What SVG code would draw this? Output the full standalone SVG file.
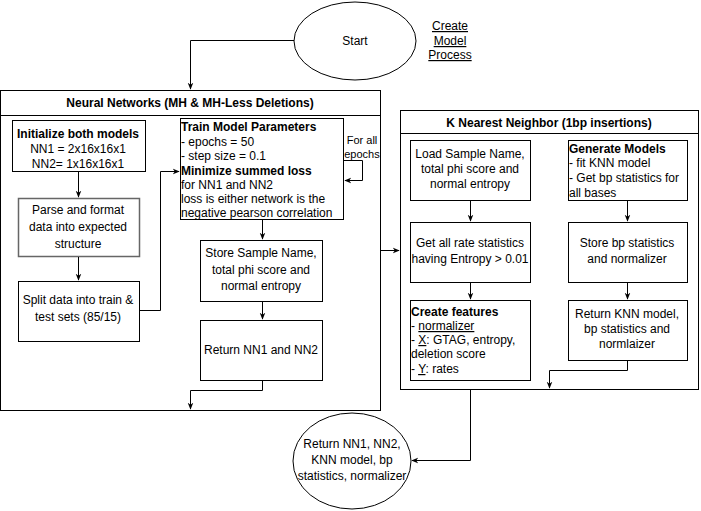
<svg xmlns="http://www.w3.org/2000/svg" width="701" height="511" viewBox="0 0 701 511">
<defs>
<marker id="ah" viewBox="0 0 10 10" refX="9" refY="5" markerWidth="7" markerHeight="7" orient="auto" markerUnits="userSpaceOnUse">
<path d="M0,1 L10,5 L0,9 L3,5 Z" fill="#000"/>
</marker>
<style>
text{font-family:"Liberation Sans",Arial,sans-serif;font-size:12px;fill:#000}
.c{text-anchor:middle}
.b{font-weight:bold}
.u{text-decoration:underline}
.box{fill:#fff;stroke:#000;stroke-width:1}
.gbox{fill:#fff;stroke:#666;stroke-width:1.5}
.edge{fill:none;stroke:#000;stroke-width:1}
.small{font-size:11px}
</style>
</defs>
<rect width="701" height="511" fill="#fff"/>

<g id="start">
<ellipse cx="355" cy="41" rx="61" ry="39" class="box"/>
<text x="355" y="45" class="c">Start</text>
</g>
<g id="title-link">
<text x="450" y="30" class="c u">Create</text>
<text x="450" y="45" class="c u">Model</text>
<text x="450" y="59" class="c u">Process</text>
</g>

<g id="nn-container">
<rect x="0.5" y="90.5" width="380" height="320" class="box"/>
<line x1="0.5" y1="115.5" x2="380.5" y2="115.5" stroke="#000"/>
<text x="190" y="107" class="c b">Neural Networks (MH &amp; MH-Less Deletions)</text>
</g>
<g id="init">
<rect x="12.5" y="120.5" width="133" height="51" class="box"/>
<text x="78" y="138" class="c b">Initialize both models</text>
<text x="78" y="153" class="c">NN1 = 2x16x16x1</text>
<text x="78" y="168" class="c">NN2= 1x16x16x1</text>
</g>
<g id="parse">
<rect x="18.5" y="198.5" width="121" height="58" class="gbox"/>
<text x="78" y="214" class="c" fill="#333">Parse and format</text>
<text x="78" y="231" class="c" fill="#333">data into expected</text>
<text x="78" y="248" class="c" fill="#333">structure</text>
</g>
<g id="split">
<rect x="18.5" y="281.5" width="121" height="60" class="box"/>
<text x="78" y="304" class="c">Split data into train &amp;</text>
<text x="78" y="321" class="c">test sets (85/15)</text>
</g>
<g id="train">
<rect x="180.5" y="118.5" width="163" height="101" class="box"/>
<text x="181" y="131" class="b">Train Model Parameters</text>
<text x="181" y="146">- epochs = 50</text>
<text x="181" y="160">- step size = 0.1</text>
<text x="181" y="175" class="b">Minimize summed loss</text>
<text x="181" y="189">for NN1 and NN2</text>
<text x="181" y="203">loss is either network is the</text>
<text x="181" y="217">negative pearson correlation</text>
</g>
<g id="loop-label">
<text x="362" y="144" class="c small">For all</text>
<text x="362" y="158" class="c small">epochs</text>
</g>
<g id="store">
<rect x="200.5" y="240.5" width="122" height="61" class="box"/>
<text x="261" y="257" class="c">Store Sample Name,</text>
<text x="261" y="274" class="c">total phi score and</text>
<text x="261" y="290" class="c">normal entropy</text>
</g>
<g id="return-nn">
<rect x="200.5" y="320.5" width="122" height="60" class="box"/>
<text x="261" y="354" class="c">Return NN1 and NN2</text>
</g>

<g id="knn-container">
<rect x="400.5" y="110.5" width="298" height="279" class="box"/>
<line x1="400.5" y1="133.5" x2="698.5" y2="133.5" stroke="#000"/>
<text x="549" y="127" class="c b">K Nearest Neighbor (1bp insertions)</text>
</g>
<g id="load">
<rect x="410.5" y="140.5" width="120" height="60" class="box"/>
<text x="470" y="158" class="c">Load Sample Name,</text>
<text x="470" y="173" class="c">total phi score and</text>
<text x="470" y="188" class="c">normal entropy</text>
</g>
<g id="generate">
<rect x="568.5" y="140.5" width="119" height="60" class="box"/>
<text x="569" y="153" class="b">Generate Models</text>
<text x="569" y="167">- fit KNN model</text>
<text x="569" y="182">- Get bp statistics for</text>
<text x="569" y="197">all bases</text>
</g>
<g id="get-rates">
<rect x="410.5" y="222.5" width="120" height="60" class="box"/>
<text x="470" y="247" class="c">Get all rate statistics</text>
<text x="470" y="263" class="c">having Entropy &gt; 0.01</text>
</g>
<g id="store-bp">
<rect x="568.5" y="222.5" width="119" height="60" class="box"/>
<text x="627" y="247" class="c">Store bp statistics</text>
<text x="627" y="263" class="c">and normalizer</text>
</g>
<g id="features">
<rect x="410.5" y="300.5" width="120" height="80" class="box"/>
<text x="411" y="316" class="b">Create features</text>
<text x="411" y="330">- <tspan class="u">normalizer</tspan></text>
<text x="411" y="344">- <tspan class="u">X</tspan>: GTAG, entropy,</text>
<text x="411" y="358">deletion score</text>
<text x="411" y="373">- <tspan class="u">Y</tspan>: rates</text>
</g>
<g id="return-knn">
<rect x="568.5" y="300.5" width="119" height="60" class="box"/>
<text x="627" y="318" class="c">Return KNN model,</text>
<text x="627" y="333" class="c">bp statistics and</text>
<text x="627" y="348" class="c">normlaizer</text>
</g>

<g id="final">
<ellipse cx="352" cy="461" rx="59" ry="48" class="box"/>
<text x="352" y="448" class="c">Return NN1, NN2,</text>
<text x="352" y="464" class="c">KNN model, bp</text>
<text x="352" y="480" class="c">statistics, normalizer</text>
</g>

<g id="connectors">
<path class="edge" d="M294,40.5 H190.5 V89" marker-end="url(#ah)"/>
<path class="edge" d="M78.5,171 V197" marker-end="url(#ah)"/>
<path class="edge" d="M78.5,257 V280" stroke="#555" marker-end="url(#ah)"/>
<path class="edge" d="M139,310.5 H160.5 V171.5 H179" marker-end="url(#ah)"/>
<path class="edge" d="M343,160.5 H362.5 V180.5 H345" marker-end="url(#ah)"/>
<path class="edge" d="M262.5,219 V239" marker-end="url(#ah)"/>
<path class="edge" d="M262.5,301 V319" marker-end="url(#ah)"/>
<path class="edge" d="M262.5,380 V390.5 H190.5 V409" marker-end="url(#ah)"/>
<path class="edge" d="M381,250.5 H399" marker-end="url(#ah)"/>
<path class="edge" d="M470.5,200 V221" marker-end="url(#ah)"/>
<path class="edge" d="M470.5,282 V299" marker-end="url(#ah)"/>
<path class="edge" d="M627.5,200 V221" marker-end="url(#ah)"/>
<path class="edge" d="M627.5,282 V299" marker-end="url(#ah)"/>
<path class="edge" d="M627.5,360 V370.5 H549.5 V388" marker-end="url(#ah)"/>
<path class="edge" d="M470.5,389 V460.5 H412" marker-end="url(#ah)"/>
</g>
</svg>
